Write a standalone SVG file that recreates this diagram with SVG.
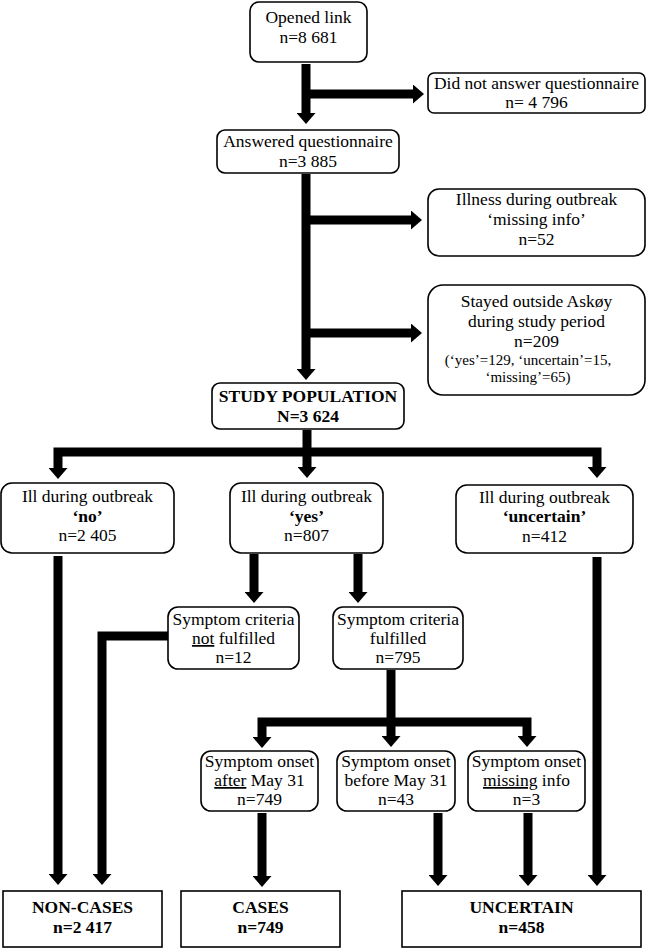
<svg xmlns="http://www.w3.org/2000/svg" width="646" height="949" viewBox="0 0 646 949">
<style>
  .box{fill:#fff;stroke:#000;stroke-width:1.6}
  .fin{fill:#fff;stroke:#000;stroke-width:1.6}
  text{font-family:"Liberation Serif","Times New Roman",serif;font-size:17.5px;fill:#000;text-anchor:middle}
  .b{font-weight:bold}
  .sm{font-size:15px}
  .u{text-decoration:underline}
  .c{fill:none;stroke:#000;stroke-width:9;stroke-linejoin:miter;stroke-linecap:butt}
</style>
<defs>
  <marker id="ah" markerUnits="userSpaceOnUse" viewBox="0 0 11 19" markerWidth="11" markerHeight="19" refX="0" refY="9.5" orient="auto">
    <path d="M0,0 L11,9.5 L0,19 Z" fill="#000"/>
  </marker>
</defs>

<g id="connectors">
  <path class="c" d="M306,64 V113" marker-end="url(#ah)"/>
  <path class="c" d="M306,94 H413" marker-end="url(#ah)"/>
  <path class="c" d="M306,174 V369" marker-end="url(#ah)"/>
  <path class="c" d="M306,220 H411" marker-end="url(#ah)"/>
  <path class="c" d="M306,333 H411" marker-end="url(#ah)"/>
  <path class="c" d="M58,467 V452 H597 V467" marker-end="url(#ah)"/>
  <path class="c" d="M307,430 V467" marker-end="url(#ah)"/>
  <path class="c" d="M58,467 V468" marker-end="url(#ah)"/>
  <path class="c" d="M58,556 V874" marker-end="url(#ah)"/>
  <path class="c" d="M254,554 V592" marker-end="url(#ah)"/>
  <path class="c" d="M358,554 V592" marker-end="url(#ah)"/>
  <path class="c" d="M597,557 V875" marker-end="url(#ah)"/>
  <path class="c" d="M168,636 H102 V874" marker-end="url(#ah)"/>
  <path class="c" d="M262,736 V722 H527 V736" marker-end="url(#ah)"/>
  <path class="c" d="M262,736 V737" marker-end="url(#ah)"/>
  <path class="c" d="M391,670 V736" marker-end="url(#ah)"/>
  <path class="c" d="M262,813 V876" marker-end="url(#ah)"/>
  <path class="c" d="M438,813 V875" marker-end="url(#ah)"/>
  <path class="c" d="M528,813 V875" marker-end="url(#ah)"/>
</g>

<g id="opened">
  <rect class="box" x="250" y="2" width="117" height="60" rx="9"/>
  <text x="308.5" y="23">Opened link</text>
  <text x="308.5" y="43">n=8 681</text>
</g>
<g id="notanswered">
  <rect class="box" x="428" y="73" width="217" height="40" rx="6"/>
  <text x="536.5" y="89" font-size="15" textLength="205" lengthAdjust="spacingAndGlyphs">Did not answer questionnaire</text>
  <text x="536.5" y="108" font-size="15">n= 4 796</text>
</g>
<g id="answered">
  <rect class="box" x="217" y="130" width="182" height="43" rx="8"/>
  <text x="308" y="146.5">Answered questionnaire</text>
  <text x="308" y="166.5">n=3 885</text>
</g>
<g id="illness-missing">
  <rect class="box" x="428" y="189" width="217" height="67" rx="11"/>
  <text x="536.5" y="205">Illness during outbreak</text>
  <text x="536.5" y="225">‘missing info’</text>
  <text x="536.5" y="245">n=52</text>
</g>
<g id="stayed-outside">
  <rect class="box" x="428" y="285" width="217" height="110" rx="15"/>
  <text x="536.5" y="307">Stayed outside Askøy</text>
  <text x="536.5" y="327">during study period</text>
  <text x="536.5" y="347">n=209</text>
  <text class="sm" x="528" y="365">(‘yes’=129, ‘uncertain’=15,</text>
  <text class="sm" x="528" y="382">‘missing’=65)</text>
</g>
<g id="study-population">
  <rect class="box" x="212" y="383" width="192" height="46" rx="8"/>
  <text class="b" x="308" y="402">STUDY POPULATION</text>
  <text class="b" x="308" y="422">N=3 624</text>
</g>
<g id="ill-no">
  <rect class="box" x="1" y="483" width="173" height="70" rx="11"/>
  <text x="87.5" y="502">Ill during outbreak</text>
  <text class="b" x="87.5" y="522">‘no’</text>
  <text x="87.5" y="541">n=2 405</text>
</g>
<g id="ill-yes">
  <rect class="box" x="230" y="483" width="153" height="70" rx="11"/>
  <text x="306.5" y="502">Ill during outbreak</text>
  <text class="b" x="306.5" y="522">‘yes’</text>
  <text x="306.5" y="541">n=807</text>
</g>
<g id="ill-uncertain">
  <rect class="box" x="456" y="485" width="177" height="68" rx="11"/>
  <text x="544.5" y="503">Ill during outbreak</text>
  <text class="b" x="544.5" y="522">‘uncertain’</text>
  <text x="544.5" y="542">n=412</text>
</g>
<g id="criteria-not">
  <rect class="box" x="168" y="607" width="131" height="62" rx="10"/>
  <text x="233.5" y="625">Symptom criteria</text>
  <text x="233.5" y="644"><tspan class="u">not</tspan> fulfilled</text>
  <text x="233.5" y="663">n=12</text>
</g>
<g id="criteria-fulfilled">
  <rect class="box" x="333" y="607" width="130" height="62" rx="10"/>
  <text x="398" y="625">Symptom criteria</text>
  <text x="398" y="644">fulfilled</text>
  <text x="398" y="663">n=795</text>
</g>
<g id="onset-after">
  <rect class="box" x="201" y="751" width="117" height="60" rx="10"/>
  <text x="259.5" y="767">Symptom onset</text>
  <text x="259.5" y="786"><tspan class="u">after</tspan> May 31</text>
  <text x="259.5" y="805">n=749</text>
</g>
<g id="onset-before">
  <rect class="box" x="337" y="751" width="118" height="60" rx="10"/>
  <text x="396" y="767">Symptom onset</text>
  <text x="396" y="786">before May 31</text>
  <text x="396" y="805">n=43</text>
</g>
<g id="onset-missing">
  <rect class="box" x="468" y="751" width="117" height="60" rx="10"/>
  <text x="526.5" y="767">Symptom onset</text>
  <text x="526.5" y="786"><tspan class="u">missing</tspan> info</text>
  <text x="526.5" y="805">n=3</text>
</g>
<g id="non-cases">
  <rect class="fin" x="3" y="891" width="159" height="56"/>
  <text class="b" x="82.5" y="913">NON-CASES</text>
  <text class="b" x="82.5" y="933">n=2 417</text>
</g>
<g id="cases">
  <rect class="fin" x="181" y="891" width="159" height="56"/>
  <text class="b" x="260.5" y="913">CASES</text>
  <text class="b" x="260.5" y="933">n=749</text>
</g>
<g id="uncertain">
  <rect class="fin" x="402" y="891" width="239" height="56"/>
  <text class="b" x="521.5" y="913">UNCERTAIN</text>
  <text class="b" x="521.5" y="933">n=458</text>
</g>
</svg>
